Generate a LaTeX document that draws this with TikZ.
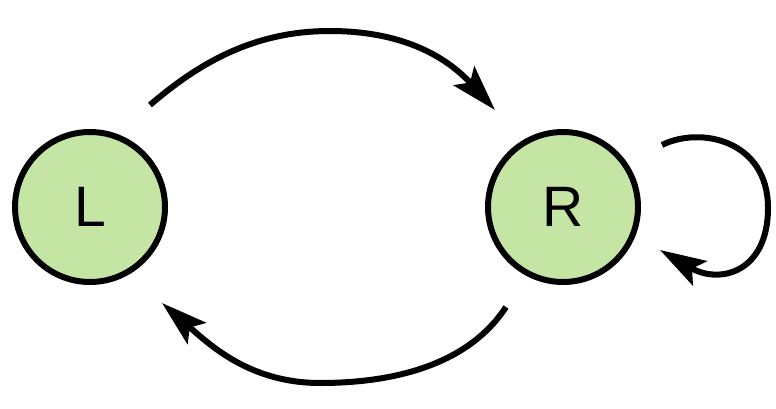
\documentclass[tikz,border=0pt]{standalone}
\usepackage{fontspec}
\setmainfont{Liberation Sans}
\usetikzlibrary{arrows.meta}
\definecolor{stategreen}{RGB}{197,229,165}
\tikzset{
  state/.style={circle, draw=black, line width=6pt, fill=stategreen, minimum size=150pt, inner sep=0pt, font=\fontsize{57}{60}\selectfont},
  conn/.style={line width=6pt, -{Stealth[length=46pt,width=28pt,inset=9pt]}}
}
\begin{document}
\begin{tikzpicture}[x=1pt,y=-1pt]
\useasboundingbox (0,0) rectangle (776,409);
\node[state] (L) at (90,207) {L};
\node[state] (R) at (563,207) {R};
\coordinate (t0) at (150,105);
\coordinate (t1) at (495,110);
\coordinate (b0) at (506,307);
\coordinate (b1) at (162,303);
\coordinate (s0) at (662,145);
\coordinate (s1) at (660,250);
\draw[conn] (t0) .. controls (200,62) and (255,31) .. (330,31) .. controls (400,31) and (445,55) .. (t1);
\draw[conn] (b0) .. controls (470,362) and (400,383) .. (320,383) .. controls (250,383) and (210,345) .. (b1);
\draw[conn] (s0) .. controls (700,126) and (768,140) .. (768,208) .. controls (768,272) and (720,285) .. (s1);
\end{tikzpicture}
\end{document}
